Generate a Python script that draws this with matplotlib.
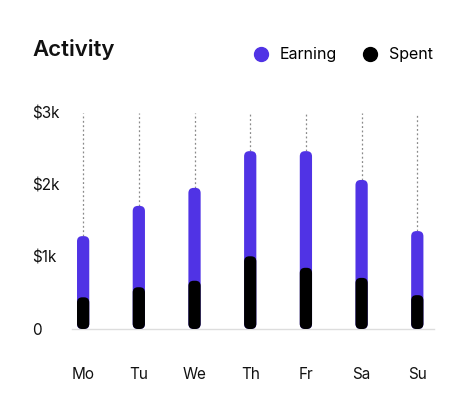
import matplotlib
matplotlib.use("Agg")
import matplotlib.pyplot as plt
from matplotlib.patches import FancyBboxPatch
from matplotlib.lines import Line2D
import numpy as np

days = ["Mo", "Tu", "We", "Th", "Fr", "Sa", "Su"]
earning = [1290, 1710, 1960, 2470, 2470, 2070, 1360]
spent = [440, 580, 670, 1010, 850, 710, 470]
yticks = [0, 1000, 2000, 3000]
ytick_labels = ["0", "$1k", "$2k", "$3k"]

PURPLE = "#5033E5"
BLACK = "#000000"

plt.rcParams['font.family'] = ['Inter', 'DejaVu Sans']

fig = plt.figure(figsize=(4.64, 4.15), dpi=100)
ax = fig.add_axes([72/464, (415-329)/415, (434-72)/464, (329-113)/415])
x = np.arange(len(days))
ax.set_xlim(-0.2, 6.3)
ax.set_ylim(0, 3000)

for s in ["top", "right", "left"]:
    ax.spines[s].set_visible(False)
ax.spines["bottom"].set_color("#dddddd")
ax.spines["bottom"].set_linewidth(1.0)

# dotted guide lines
ax.vlines(x, earning, 3000, colors="#8a8a8a", linestyles=(0, (1.5, 2)), linewidth=0.9, zorder=1)

width = 0.22
fig.canvas.draw()
px_per_x = ax.transData.transform((1, 0))[0] - ax.transData.transform((0, 0))[0]
px_per_y = ax.transData.transform((0, 1))[1] - ax.transData.transform((0, 0))[1]
aspect = px_per_x / px_per_y

def rounded_bars(vals, color, z):
    bars = ax.bar(x, vals, width=width, color=color, zorder=z)
    for b in bars:
        bx, by = b.get_x(), b.get_y()
        w, h = b.get_width(), b.get_height()
        b.remove()
        r = w / 2 * 0.85
        p = FancyBboxPatch((bx, by), w, h,
                           boxstyle=f"round,pad=0,rounding_size={r}",
                           mutation_aspect=aspect, facecolor=color,
                           edgecolor="none", zorder=z)
        ax.add_patch(p)

rounded_bars(earning, PURPLE, 2)
rounded_bars(spent, BLACK, 3)

ax.set_xticks(x)
ax.set_xticklabels(days, fontsize=11, color="#111111")
ax.tick_params(axis="x", length=0, pad=27)
ax.set_yticks(yticks)
ax.set_yticklabels(ytick_labels, fontsize=11, color="#111111", ha="left")
ax.tick_params(axis="y", length=0, pad=29)

fig.text(32/464, 1 - 49.5/415, "Activity", fontsize=16, fontweight="semibold",
         va="center", ha="left", color="#111111")

handles = [Line2D([], [], marker="o", linestyle="none", markersize=10, color=PURPLE),
           Line2D([], [], marker="o", linestyle="none", markersize=10, color=BLACK)]
fig.legend(handles, ["Earning", "Spent"], loc="center right",
           bbox_to_anchor=(447/464, 1 - 55/415), ncol=2, frameon=False,
           fontsize=11.5, handletextpad=0.55, columnspacing=1.5, handlelength=1.2)

fig.savefig("out.png", dpi=100)
